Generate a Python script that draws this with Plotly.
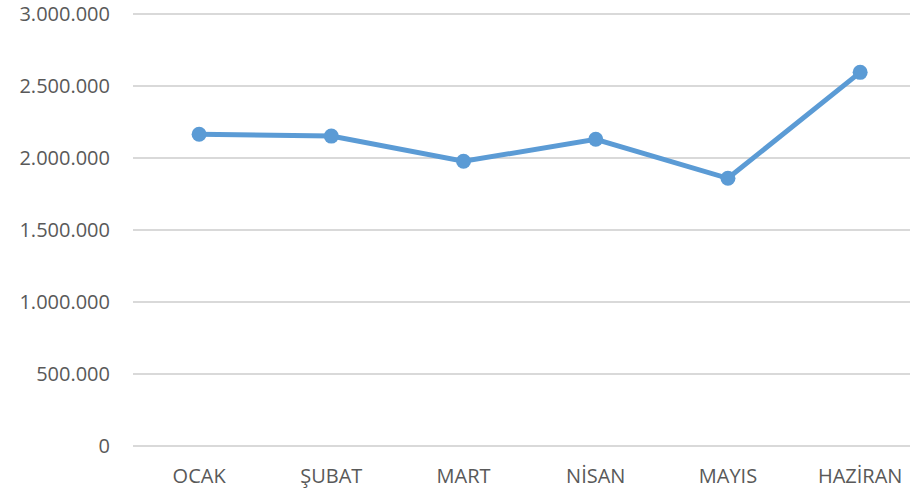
import plotly.graph_objects as go

months = ['OCAK', 'ŞUBAT', 'MART', 'NİSAN', 'MAYIS', 'HAZİRAN']
values = [2165000, 2152000, 1977000, 2130000, 1859000, 2595000]
y_ticks = [0, 500000, 1000000, 1500000, 2000000, 2500000, 3000000]

fig = go.Figure(go.Scatter(
    x=months, y=values, mode='lines+markers',
    line=dict(color='#5B9BD5', width=5),
    marker=dict(color='#5B9BD5', size=15),
    showlegend=False,
))

fig.update_layout(
    width=910, height=493,
    margin=dict(l=133, r=0, t=13, b=47),
    paper_bgcolor='white', plot_bgcolor='white',
    separators=',.',
    font=dict(family='Open Sans', size=20, color='#595959'),
)
fig.update_xaxes(range=[-0.5, 5.377], showgrid=False, showline=False,
                 zeroline=False, ticks='', ticklabelstandoff=16,
                 automargin=False)
# a hair of headroom so the 3.000.000 gridline is still drawn
fig.update_yaxes(range=[0, 3007000], tickvals=y_ticks, tickformat=',d',
                 showgrid=True, gridcolor='#D9D9D9', gridwidth=1.5,
                 zeroline=True, zerolinecolor='#D9D9D9', zerolinewidth=1.5,
                 showline=False, ticks='', ticklabelstandoff=22,
                 automargin=False)

# drop the default 8px page margin so the figure fills the window
fig.write_html('out.html', config={'displayModeBar': False},
               post_script="document.body.style.margin='0';")
